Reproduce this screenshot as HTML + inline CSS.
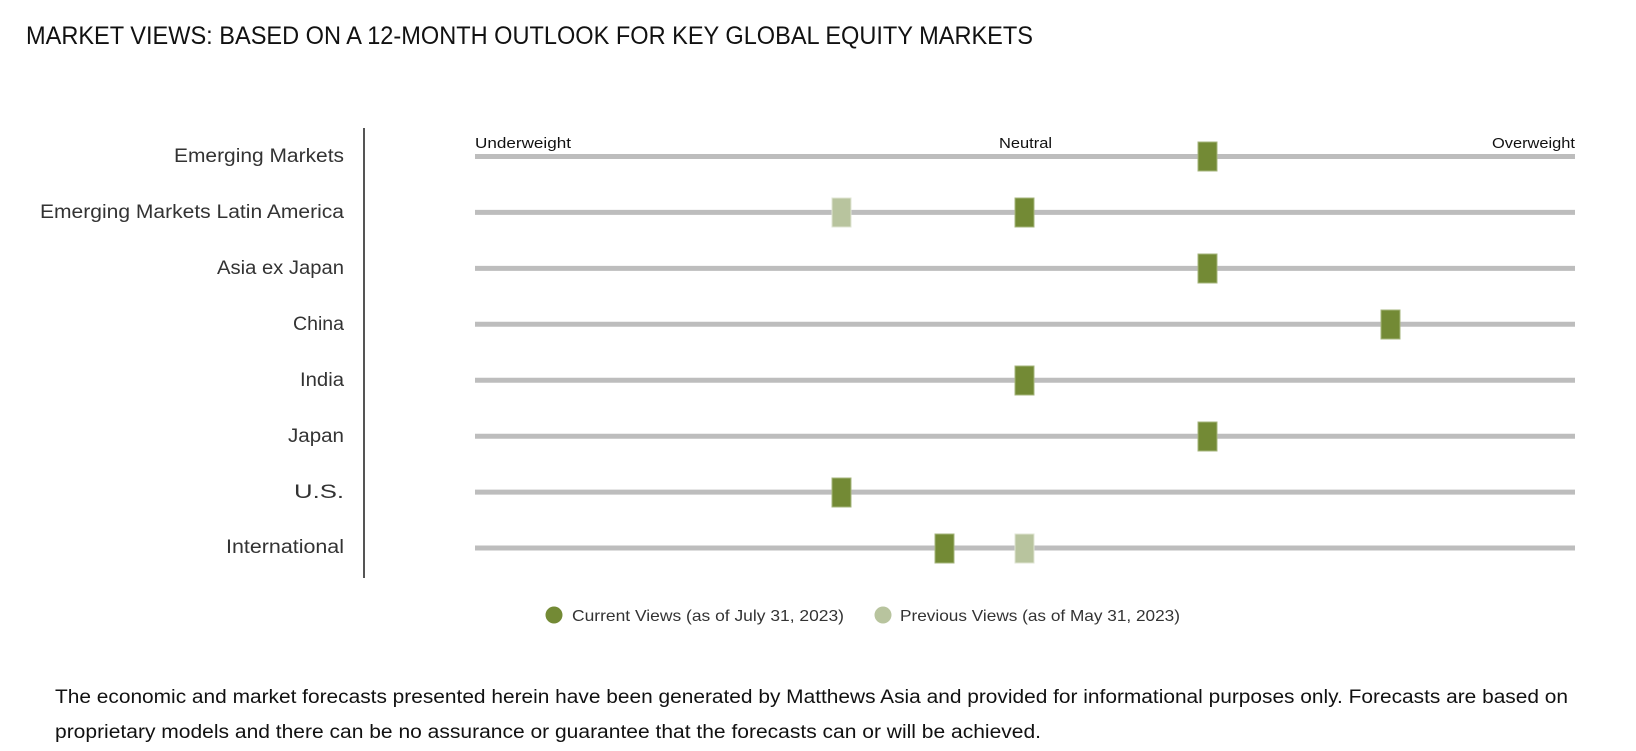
<!DOCTYPE html>
<html>
<head>
<meta charset="utf-8">
<style>
html,body{margin:0;padding:0;background:#fff;}
body{width:1636px;height:751px;overflow:hidden;}
svg{display:block;}
text{font-family:"Liberation Sans","DejaVu Sans",sans-serif;}
</style>
</head>
<body>
<svg width="1636" height="751" viewBox="0 0 1636 751" xmlns="http://www.w3.org/2000/svg">
  <rect x="0" y="0" width="1636" height="751" fill="#ffffff"/>

  <!-- Title -->
  <text x="26" y="44" font-size="25" fill="#111111" textLength="1007" lengthAdjust="spacingAndGlyphs">MARKET VIEWS: BASED ON A 12-MONTH OUTLOOK FOR KEY GLOBAL EQUITY MARKETS</text>

  <!-- Scale labels -->
  <text x="475" y="148" font-size="15" fill="#111111" textLength="96" lengthAdjust="spacingAndGlyphs">Underweight</text>
  <text x="999" y="148" font-size="15" fill="#111111" textLength="53" lengthAdjust="spacingAndGlyphs">Neutral</text>
  <text x="1492" y="148" font-size="15" fill="#111111" textLength="83" lengthAdjust="spacingAndGlyphs">Overweight</text>

  <!-- Vertical axis -->
  <line x1="364" y1="128" x2="364" y2="578" stroke="#555555" stroke-width="2"/>

  <!-- Row labels -->
  <g font-size="19" fill="#333333" text-anchor="end">
    <text x="344" y="162" textLength="170" lengthAdjust="spacingAndGlyphs">Emerging Markets</text>
    <text x="344" y="218" textLength="304" lengthAdjust="spacingAndGlyphs">Emerging Markets Latin America</text>
    <text x="344" y="274" textLength="127" lengthAdjust="spacingAndGlyphs">Asia ex Japan</text>
    <text x="344" y="330" textLength="51" lengthAdjust="spacingAndGlyphs">China</text>
    <text x="344" y="386" textLength="44" lengthAdjust="spacingAndGlyphs">India</text>
    <text x="344" y="442" textLength="56" lengthAdjust="spacingAndGlyphs">Japan</text>
    <text x="344" y="498" textLength="50" lengthAdjust="spacingAndGlyphs">U.S.</text>
    <text x="344" y="553" textLength="118" lengthAdjust="spacingAndGlyphs">International</text>
  </g>

  <!-- Track lines -->
  <g stroke="#bdbdbd" stroke-width="5">
    <line x1="475" y1="156.5" x2="1575" y2="156.5"/>
    <line x1="475" y1="212.4" x2="1575" y2="212.4"/>
    <line x1="475" y1="268.4" x2="1575" y2="268.4"/>
    <line x1="475" y1="324.3" x2="1575" y2="324.3"/>
    <line x1="475" y1="380.2" x2="1575" y2="380.2"/>
    <line x1="475" y1="436.2" x2="1575" y2="436.2"/>
    <line x1="475" y1="492.1" x2="1575" y2="492.1"/>
    <line x1="475" y1="548" x2="1575" y2="548"/>
  </g>

  <!-- Previous view markers (light) -->
  <g fill="#b8c49e" stroke="#dfe5d3" stroke-width="1">
    <rect x="832" y="198" width="19" height="29"/>
    <rect x="1015" y="534" width="19" height="29"/>
  </g>

  <!-- Current view markers (dark) -->
  <g fill="#738a35" stroke="#a6b57c" stroke-width="1">
    <rect x="1198" y="142" width="19" height="29"/>
    <rect x="1015" y="198" width="19" height="29"/>
    <rect x="1198" y="254" width="19" height="29"/>
    <rect x="1381" y="310" width="19" height="29"/>
    <rect x="1015" y="366" width="19" height="29"/>
    <rect x="1198" y="422" width="19" height="29"/>
    <rect x="832" y="478" width="19" height="29"/>
    <rect x="935" y="534" width="19" height="29"/>
  </g>

  <!-- Legend -->
  <circle cx="554" cy="615" r="8.5" fill="#738a35"/>
  <text x="572" y="621" font-size="16" fill="#333333" textLength="272" lengthAdjust="spacingAndGlyphs">Current Views (as of July 31, 2023)</text>
  <circle cx="883" cy="615" r="8.5" fill="#b8c49e"/>
  <text x="900" y="621" font-size="16" fill="#333333" textLength="280" lengthAdjust="spacingAndGlyphs">Previous Views (as of May 31, 2023)</text>

  <!-- Footer -->
  <text x="55" y="703" font-size="19" fill="#111111" textLength="1513" lengthAdjust="spacingAndGlyphs">The economic and market forecasts presented herein have been generated by Matthews Asia and provided for informational purposes only. Forecasts are based on</text>
  <text x="55" y="738" font-size="19" fill="#111111" textLength="986" lengthAdjust="spacingAndGlyphs">proprietary models and there can be no assurance or guarantee that the forecasts can or will be achieved.</text>
</svg>
</body>
</html>
